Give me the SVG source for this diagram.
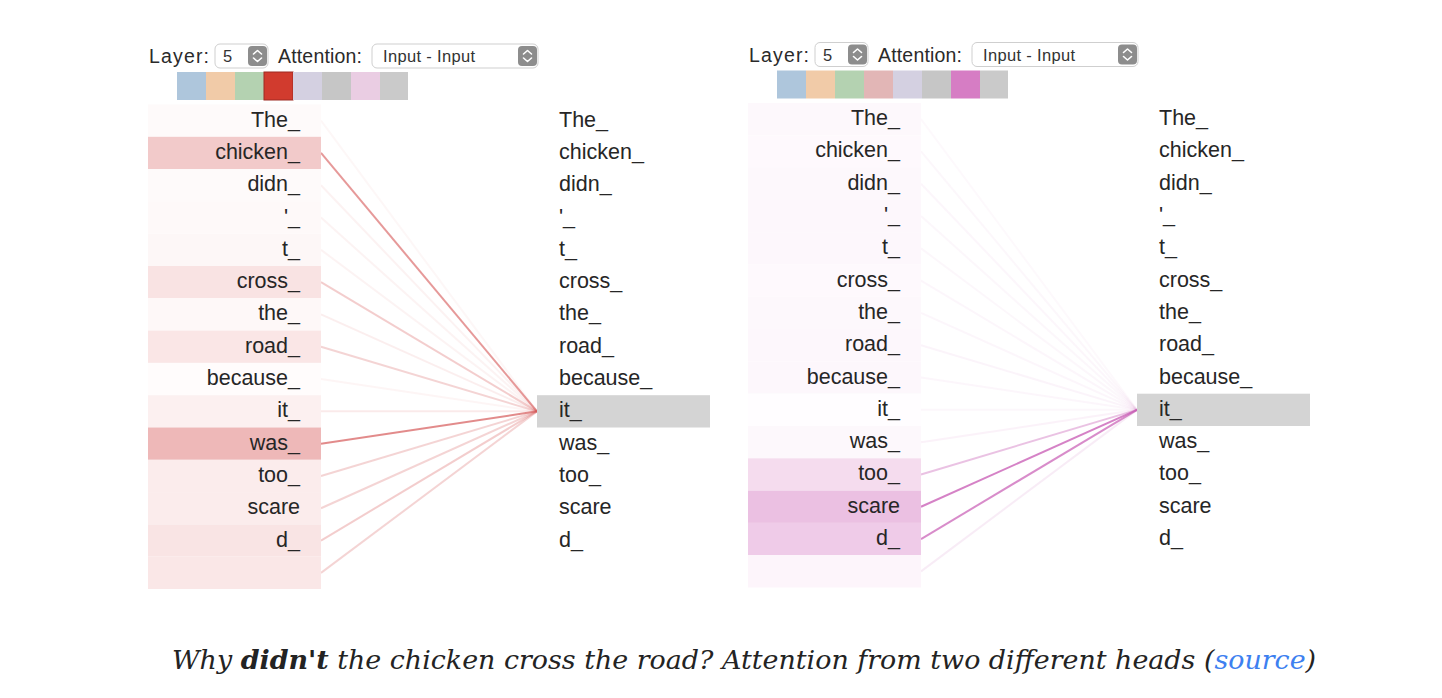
<svg xmlns="http://www.w3.org/2000/svg" width="1442" height="698" viewBox="0 0 1442 698">
<style>
.lbl{font-family:"Liberation Sans",Arial,sans-serif;font-size:19.5px;fill:#2a2a2a}
.sel{font-family:"Liberation Sans",Arial,sans-serif;font-size:16.5px;fill:#333}
.tok{font-family:"Liberation Sans",Arial,sans-serif;font-size:21.5px;fill:#262626}
.tr{text-anchor:end}
.box{fill:#fff;stroke:#cfcfcf;stroke-width:1}
.step{fill:#8d8d8d}
.chev{fill:none;stroke:#fff;stroke-width:1.6;stroke-linecap:round;stroke-linejoin:round}
.la{stroke:#d65a5a;stroke-width:2;fill:none}
.ra{stroke:#c95fb6;stroke-width:2;fill:none}
.cap{font-family:"DejaVu Serif",Georgia,serif;font-style:italic;font-size:26.9px;fill:#232323;text-anchor:middle}
</style>
<defs>
<g id="stepper">
<rect class="step" x="0" y="0" width="19" height="20" rx="4"/>
<path class="chev" d="M5.5,8 L9.5,4.5 L13.5,8 M5.5,12 L9.5,15.5 L13.5,12"/>
</g>
</defs>
<rect width="1442" height="698" fill="#fff"/>

<!-- LEFT PANEL -->
<g id="panel-left">
<g id="controls-left">
<text class="lbl" x="149" y="63" textLength="60">Layer:</text>
<rect class="box" x="215" y="44" width="53" height="24" rx="5"/>
<text class="sel" x="223" y="62">5</text>
<use href="#stepper" x="248" y="46"/>
<text class="lbl" x="278" y="63" textLength="84">Attention:</text>
<rect class="box" x="372" y="44" width="166" height="24" rx="5"/>
<text class="sel" x="383" y="62" textLength="92">Input - Input</text>
<use href="#stepper" x="518" y="46"/>
</g>
<g id="heads-left">
<rect x="177" y="72" width="29" height="28" fill="#aec6dc"/>
<rect x="206" y="72" width="29" height="28" fill="#f1cba8"/>
<rect x="235" y="72" width="29" height="28" fill="#b4d2b1"/>
<rect x="264" y="72" width="29" height="28" fill="#d13b2e" stroke="#9e2a22" stroke-width="1"/>
<rect x="293" y="72" width="29" height="28" fill="#d4d0e1"/>
<rect x="322" y="72" width="29" height="28" fill="#c6c6c6"/>
<rect x="351" y="72" width="29" height="28" fill="#eacde3"/>
<rect x="380" y="72" width="28" height="28" fill="#cacaca"/>
</g>
<g id="connectors-left">
<line class="la" x1="321" y1="120.65" x2="537" y2="411.35" stroke-opacity="0.05"/>
<line class="la" x1="321" y1="152.95" x2="537" y2="411.35" stroke-opacity="0.62"/>
<line class="la" x1="321" y1="185.25" x2="537" y2="411.35" stroke-opacity="0.08"/>
<line class="la" x1="321" y1="217.55" x2="537" y2="411.35" stroke-opacity="0.07"/>
<line class="la" x1="321" y1="249.85" x2="537" y2="411.35" stroke-opacity="0.07"/>
<line class="la" x1="321" y1="282.15" x2="537" y2="411.35" stroke-opacity="0.3"/>
<line class="la" x1="321" y1="314.45" x2="537" y2="411.35" stroke-opacity="0.1"/>
<line class="la" x1="321" y1="346.75" x2="537" y2="411.35" stroke-opacity="0.26"/>
<line class="la" x1="321" y1="379.05" x2="537" y2="411.35" stroke-opacity="0.06"/>
<line class="la" x1="321" y1="411.35" x2="537" y2="411.35" stroke-opacity="0.13"/>
<line class="la" x1="321" y1="443.65" x2="537" y2="411.35" stroke-opacity="0.7"/>
<line class="la" x1="321" y1="475.95" x2="537" y2="411.35" stroke-opacity="0.26"/>
<line class="la" x1="321" y1="508.25" x2="537" y2="411.35" stroke-opacity="0.26"/>
<line class="la" x1="321" y1="540.55" x2="537" y2="411.35" stroke-opacity="0.3"/>
<line class="la" x1="321" y1="572.85" x2="537" y2="411.35" stroke-opacity="0.26"/>
</g>
<g id="src-left">
<g id="L0"><rect x="148" y="104.5" width="173" height="32.3" fill="#fefafa"/><text class="tok tr" x="300" y="126.6">The_</text></g>
<g id="L1"><rect x="148" y="136.8" width="173" height="32.3" fill="#f2caca"/><text class="tok tr" x="300" y="158.9">chicken_</text></g>
<g id="L2"><rect x="148" y="169.1" width="173" height="32.3" fill="#fefafa"/><text class="tok tr" x="300" y="191.2">didn_</text></g>
<g id="L3"><rect x="148" y="201.4" width="173" height="32.3" fill="#fef9f9"/><text class="tok tr" x="300" y="223.5">'_</text></g>
<g id="L4"><rect x="148" y="233.7" width="173" height="32.3" fill="#fdf7f7"/><text class="tok tr" x="300" y="255.8">t_</text></g>
<g id="L5"><rect x="148" y="266" width="173" height="32.3" fill="#f9e3e3"/><text class="tok tr" x="300" y="288.1">cross_</text></g>
<g id="L6"><rect x="148" y="298.3" width="173" height="32.3" fill="#fef8f8"/><text class="tok tr" x="300" y="320.4">the_</text></g>
<g id="L7"><rect x="148" y="330.6" width="173" height="32.3" fill="#fae6e6"/><text class="tok tr" x="300" y="352.7">road_</text></g>
<g id="L8"><rect x="148" y="362.9" width="173" height="32.3" fill="#fffcfc"/><text class="tok tr" x="300" y="385">because_</text></g>
<g id="L9"><rect x="148" y="395.2" width="173" height="32.3" fill="#fcf0f0"/><text class="tok tr" x="300" y="417.3">it_</text></g>
<g id="L10"><rect x="148" y="427.5" width="173" height="32.3" fill="#eeb8b8"/><text class="tok tr" x="300" y="449.6">was_</text></g>
<g id="L11"><rect x="148" y="459.8" width="173" height="32.3" fill="#fbecec"/><text class="tok tr" x="300" y="481.9">too_</text></g>
<g id="L12"><rect x="148" y="492.1" width="173" height="32.3" fill="#fbecec"/><text class="tok tr" x="300" y="514.2">scare</text></g>
<g id="L13"><rect x="148" y="524.4" width="173" height="32.3" fill="#f9e4e4"/><text class="tok tr" x="300" y="546.5">d_</text></g>
<g id="L14"><rect x="148" y="556.7" width="173" height="32.3" fill="#fae7e7"/></g>
</g>
<g id="dst-left">
<g id="R0"><text class="tok" x="559" y="126.6">The_</text></g>
<g id="R1"><text class="tok" x="559" y="158.9">chicken_</text></g>
<g id="R2"><text class="tok" x="559" y="191.2">didn_</text></g>
<g id="R3"><text class="tok" x="559" y="223.5">'_</text></g>
<g id="R4"><text class="tok" x="559" y="255.8">t_</text></g>
<g id="R5"><text class="tok" x="559" y="288.1">cross_</text></g>
<g id="R6"><text class="tok" x="559" y="320.4">the_</text></g>
<g id="R7"><text class="tok" x="559" y="352.7">road_</text></g>
<g id="R8"><text class="tok" x="559" y="385">because_</text></g>
<g id="R9"><rect x="537" y="395.2" width="173" height="32.3" fill="#d4d4d4"/><text class="tok" x="559" y="417.3">it_</text></g>
<g id="R10"><text class="tok" x="559" y="449.6">was_</text></g>
<g id="R11"><text class="tok" x="559" y="481.9">too_</text></g>
<g id="R12"><text class="tok" x="559" y="514.2">scare</text></g>
<g id="R13"><text class="tok" x="559" y="546.5">d_</text></g>
</g>
</g>

<!-- RIGHT PANEL -->
<g id="panel-right" transform="translate(600,-1.5)">
<g id="controls-right">
<text class="lbl" x="149" y="63" textLength="60">Layer:</text>
<rect class="box" x="215" y="44" width="53" height="24" rx="5"/>
<text class="sel" x="223" y="62">5</text>
<use href="#stepper" x="248" y="46"/>
<text class="lbl" x="278" y="63" textLength="84">Attention:</text>
<rect class="box" x="372" y="44" width="166" height="24" rx="5"/>
<text class="sel" x="383" y="62" textLength="92">Input - Input</text>
<use href="#stepper" x="518" y="46"/>
</g>
<g id="heads-right">
<rect x="177" y="72" width="29" height="28" fill="#aec6dc"/>
<rect x="206" y="72" width="29" height="28" fill="#f1cba8"/>
<rect x="235" y="72" width="29" height="28" fill="#b4d2b1"/>
<rect x="264" y="72" width="29" height="28" fill="#e2b6b6"/>
<rect x="293" y="72" width="29" height="28" fill="#d4d0e1"/>
<rect x="322" y="72" width="29" height="28" fill="#c6c6c6"/>
<rect x="351" y="72" width="29" height="28" fill="#d67dc4"/>
<rect x="380" y="72" width="28" height="28" fill="#cacaca"/>
</g>
<g id="connectors-right">
<line class="ra" x1="321" y1="120.65" x2="537" y2="411.35" stroke-opacity="0.04"/>
<line class="ra" x1="321" y1="152.95" x2="537" y2="411.35" stroke-opacity="0.05"/>
<line class="ra" x1="321" y1="185.25" x2="537" y2="411.35" stroke-opacity="0.06"/>
<line class="ra" x1="321" y1="217.55" x2="537" y2="411.35" stroke-opacity="0.05"/>
<line class="ra" x1="321" y1="249.85" x2="537" y2="411.35" stroke-opacity="0.05"/>
<line class="ra" x1="321" y1="282.15" x2="537" y2="411.35" stroke-opacity="0.06"/>
<line class="ra" x1="321" y1="314.45" x2="537" y2="411.35" stroke-opacity="0.06"/>
<line class="ra" x1="321" y1="346.75" x2="537" y2="411.35" stroke-opacity="0.07"/>
<line class="ra" x1="321" y1="379.05" x2="537" y2="411.35" stroke-opacity="0.06"/>
<line class="ra" x1="321" y1="411.35" x2="537" y2="411.35" stroke-opacity="0.05"/>
<line class="ra" x1="321" y1="443.65" x2="537" y2="411.35" stroke-opacity="0.08"/>
<line class="ra" x1="321" y1="475.95" x2="537" y2="411.35" stroke-opacity="0.38"/>
<line class="ra" x1="321" y1="508.25" x2="537" y2="411.35" stroke-opacity="0.78"/>
<line class="ra" x1="321" y1="540.55" x2="537" y2="411.35" stroke-opacity="0.72"/>
<line class="ra" x1="321" y1="572.85" x2="537" y2="411.35" stroke-opacity="0.12"/>
</g>
<g id="src-right">
<g id="P0"><rect x="148" y="104.5" width="173" height="32.3" fill="#fdf8fc"/><text class="tok tr" x="300" y="126.6">The_</text></g>
<g id="P1"><rect x="148" y="136.8" width="173" height="32.3" fill="#fef9fd"/><text class="tok tr" x="300" y="158.9">chicken_</text></g>
<g id="P2"><rect x="148" y="169.1" width="173" height="32.3" fill="#fdf8fc"/><text class="tok tr" x="300" y="191.2">didn_</text></g>
<g id="P3"><rect x="148" y="201.4" width="173" height="32.3" fill="#fdf7fc"/><text class="tok tr" x="300" y="223.5">'_</text></g>
<g id="P4"><rect x="148" y="233.7" width="173" height="32.3" fill="#fdf7fc"/><text class="tok tr" x="300" y="255.8">t_</text></g>
<g id="P5"><rect x="148" y="266" width="173" height="32.3" fill="#fef9fd"/><text class="tok tr" x="300" y="288.1">cross_</text></g>
<g id="P6"><rect x="148" y="298.3" width="173" height="32.3" fill="#fdf8fc"/><text class="tok tr" x="300" y="320.4">the_</text></g>
<g id="P7"><rect x="148" y="330.6" width="173" height="32.3" fill="#fdf7fc"/><text class="tok tr" x="300" y="352.7">road_</text></g>
<g id="P8"><rect x="148" y="362.9" width="173" height="32.3" fill="#fdf7fc"/><text class="tok tr" x="300" y="385">because_</text></g>
<g id="P9"><rect x="148" y="395.2" width="173" height="32.3" fill="#fffdff"/><text class="tok tr" x="300" y="417.3">it_</text></g>
<g id="P10"><rect x="148" y="427.5" width="173" height="32.3" fill="#fdf8fc"/><text class="tok tr" x="300" y="449.6">was_</text></g>
<g id="P11"><rect x="148" y="459.8" width="173" height="32.3" fill="#f5dcee"/><text class="tok tr" x="300" y="481.9">too_</text></g>
<g id="P12"><rect x="148" y="492.1" width="173" height="32.3" fill="#ebc0e2"/><text class="tok tr" x="300" y="514.2">scare</text></g>
<g id="P13"><rect x="148" y="524.4" width="173" height="32.3" fill="#efcbe8"/><text class="tok tr" x="300" y="546.5">d_</text></g>
<g id="P14"><rect x="148" y="556.7" width="173" height="32.3" fill="#fdf5fb"/></g>
</g>
<g id="dst-right">
<g id="Q0"><text class="tok" x="559" y="126.6">The_</text></g>
<g id="Q1"><text class="tok" x="559" y="158.9">chicken_</text></g>
<g id="Q2"><text class="tok" x="559" y="191.2">didn_</text></g>
<g id="Q3"><text class="tok" x="559" y="223.5">'_</text></g>
<g id="Q4"><text class="tok" x="559" y="255.8">t_</text></g>
<g id="Q5"><text class="tok" x="559" y="288.1">cross_</text></g>
<g id="Q6"><text class="tok" x="559" y="320.4">the_</text></g>
<g id="Q7"><text class="tok" x="559" y="352.7">road_</text></g>
<g id="Q8"><text class="tok" x="559" y="385">because_</text></g>
<g id="Q9"><rect x="537" y="395.2" width="173" height="32.3" fill="#d4d4d4"/><text class="tok" x="559" y="417.3">it_</text></g>
<g id="Q10"><text class="tok" x="559" y="449.6">was_</text></g>
<g id="Q11"><text class="tok" x="559" y="481.9">too_</text></g>
<g id="Q12"><text class="tok" x="559" y="514.2">scare</text></g>
<g id="Q13"><text class="tok" x="559" y="546.5">d_</text></g>
</g>
</g>

<g id="caption">
<text class="cap" x="744" y="669">Why <tspan font-weight="bold">didn't</tspan> the chicken cross the road? Attention from two different heads (<tspan fill="#3d80f0">source</tspan>)</text>
</g>
</svg>
